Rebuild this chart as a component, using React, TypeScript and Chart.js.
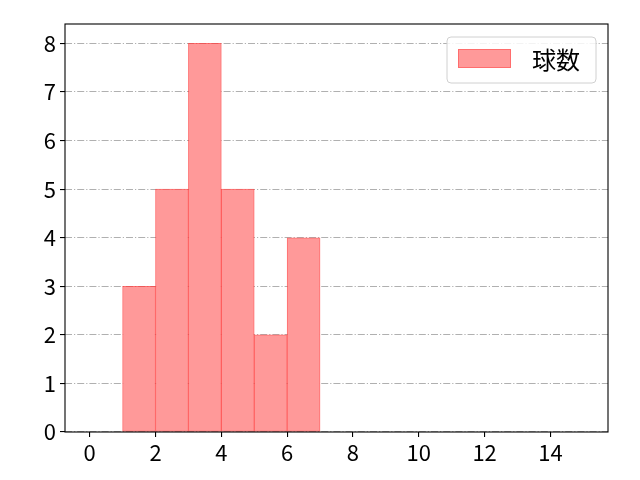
import { useRef, useEffect } from 'react';
import { Chart, registerables } from 'chart.js';

Chart.register(...registerables);

// histogram bins (left edges, width 1) and counts
const binStarts = [0, 1, 2, 3, 4, 5, 6, 7, 8, 9, 10, 11, 12, 13, 14];
const counts = [0, 3, 5, 8, 5, 2, 4, 0, 0, 0, 0, 0, 0, 0, 0];
const seriesLabel = '球数';
const xTicks = [0, 2, 4, 6, 8, 10, 12, 14];
const yTicks = [0, 1, 2, 3, 4, 5, 6, 7, 8];

const FONT = "'Noto Sans CJK JP', 'Noto Sans', sans-serif";

// frame around the plot area + legend box, like matplotlib
const framePlugin = {
  id: 'frame',
  afterDraw(chart: Chart) {
    const { ctx, chartArea } = chart;
    ctx.save();
    ctx.strokeStyle = '#000';
    ctx.lineWidth = 1.1;
    ctx.strokeRect(chartArea.left, chartArea.top, chartArea.right - chartArea.left, chartArea.bottom - chartArea.top);

    // legend
    const ds: any = chart.data.datasets[0];
    const bx = 447, by = 37, bw = 149, bh = 46, r = 4;
    ctx.beginPath();
    ctx.moveTo(bx + r, by);
    ctx.arcTo(bx + bw, by, bx + bw, by + bh, r);
    ctx.arcTo(bx + bw, by + bh, bx, by + bh, r);
    ctx.arcTo(bx, by + bh, bx, by, r);
    ctx.arcTo(bx, by, bx + bw, by, r);
    ctx.closePath();
    ctx.fillStyle = 'rgba(255,255,255,0.85)';
    ctx.fill();
    ctx.strokeStyle = '#d0d0d0';
    ctx.lineWidth = 1;
    ctx.stroke();

    ctx.fillStyle = ds.borderColor;
    ctx.fillRect(458, 49, 53, 19);
    ctx.fillStyle = ds.backgroundColor;
    ctx.fillRect(459, 50, 51, 17);

    ctx.fillStyle = '#000';
    ctx.font = `24px ${FONT}`;
    ctx.textBaseline = 'middle';
    ctx.textAlign = 'left';
    ctx.fillText(ds.label, 532, 60);
    ctx.restore();
  }
};

const App = () => {
  const chartRef = useRef<HTMLCanvasElement>(null);
  const chartInstance = useRef<Chart | null>(null);

  useEffect(() => {
    document.body.style.margin = '0';
    if (!chartRef.current) return;
    if (chartInstance.current) chartInstance.current.destroy();

    const points = binStarts.map((b, i) => ({ x: b + 0.5, y: counts[i] }));
    const tickFont = { family: FONT, size: 22 };

    chartInstance.current = new Chart(chartRef.current, {
      type: 'bar',
      data: {
        datasets: [{
          label: seriesLabel,
          data: points as any,
          backgroundColor: 'rgba(255, 153, 153, 1)',
          borderColor: 'rgba(255, 60, 60, 0.75)',
          borderWidth: 1,
          borderSkipped: false,
          barPercentage: 1,
          categoryPercentage: 1,
        }]
      },
      options: {
        responsive: false,
        animation: false,
        layout: { padding: { top: 24, right: 32, left: 0, bottom: 0 } },
        plugins: {
          legend: { display: false },
          tooltip: { enabled: false }
        },
        scales: {
          x: {
            type: 'linear',
            min: -0.75,
            max: 15.75,
            offset: false,
            afterBuildTicks: (scale: any) => { scale.ticks = xTicks.map(v => ({ value: v })); },
            afterFit: (scale: any) => { scale.height = 48; },
            grid: {
              offset: false,
              drawOnChartArea: false,
              drawTicks: true,
              tickLength: 5,
              color: '#000',
              lineWidth: 1.1
            },
            border: { display: false },
            ticks: { color: '#000', font: tickFont, padding: 2, maxRotation: 0 }
          },
          y: {
            min: 0,
            max: 8.4,
            z: 1,
            afterBuildTicks: (scale: any) => { scale.ticks = yTicks.map(v => ({ value: v })); },
            afterFit: (scale: any) => { scale.width = 65; },
            grid: {
              color: '#b0b0b0',
              lineWidth: 1.1,
              tickLength: 5,
              tickColor: '#000',
              tickWidth: 1.1,
              tickBorderDash: []
            },
            border: { display: false, dash: [7, 2, 1.2, 2] },
            ticks: { color: '#000', font: tickFont, padding: 4 }
          }
        }
      },
      plugins: [framePlugin]
    });

    return () => {
      if (chartInstance.current) {
        chartInstance.current.destroy();
        chartInstance.current = null;
      }
    };
  }, []);

  return (
    <div style={{ width: 640, height: 480, background: '#fff' }}>
      <canvas ref={chartRef} width={640} height={480}></canvas>
    </div>
  );
};

export default App;
